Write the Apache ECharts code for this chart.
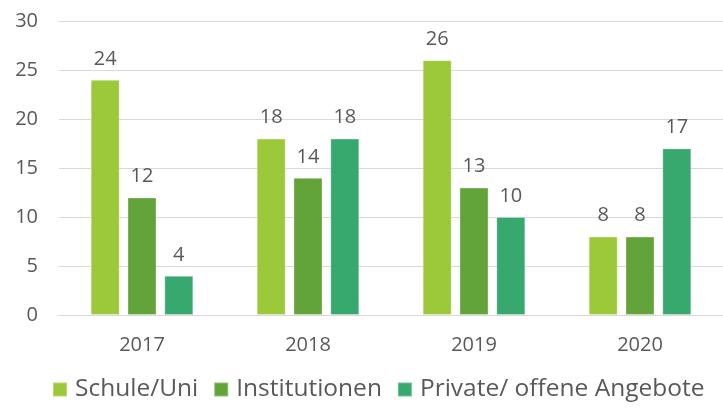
<!DOCTYPE html>
<html>
<head>
<meta charset="utf-8">
<script src="https://cdn.jsdelivr.net/npm/echarts@6/dist/echarts.min.js"></script>
<style>
  html, body { margin: 0; padding: 0; background: #fff; }
  #chart { width: 723px; height: 408px; }
</style>
</head>
<body>
<div id="chart"></div>
<script>
const years = ['2017', '2018', '2019', '2020'];
const seriesNames = ['Schule/Uni', 'Institutionen', 'Private/ offene Angebote'];
const schuleUni = [24, 18, 26, 8];
const institutionen = [12, 14, 13, 8];
const privateOffen = [4, 18, 10, 17];
const colors = ['#9bc93a', '#62a43a', '#37a86e'];

const font = 'Open Sans';
const textColor = '#595959';

const chart = echarts.init(document.getElementById('chart'));

function bar(name, data, color) {
  return {
    name: name,
    type: 'bar',
    data: data,
    barWidth: 29,
    barGap: '27%',
    itemStyle: { color: color, borderColor: 'rgba(255,255,255,0.3)', borderWidth: 1 },
    label: {
      show: true,
      position: 'top',
      distance: 11,
      color: textColor,
      fontFamily: font,
      fontSize: 20
    }
  };
}

chart.setOption({
  animation: false,
  color: colors,
  grid: { left: 59, top: 21, width: 672, bottom: 93 },
  legend: {
    data: seriesNames,
    bottom: 1,
    left: 47,
    itemWidth: 14,
    itemHeight: 14,
    itemGap: 15,
    icon: 'rect',
    textStyle: { color: textColor, fontFamily: font, fontSize: 24.5, padding: [0, 0, 0, 3] }
  },
  xAxis: {
    type: 'category',
    data: years,
    axisLine: { lineStyle: { color: '#d9d9d9' } },
    axisTick: { show: false },
    axisLabel: { color: textColor, fontFamily: font, fontSize: 20, margin: 20 }
  },
  yAxis: {
    type: 'value',
    min: 0,
    max: 30,
    interval: 5,
    splitLine: { lineStyle: { color: '#d9d9d9', width: 1 } },
    axisLabel: { color: textColor, fontFamily: font, fontSize: 20, margin: 21 }
  },
  series: [
    bar(seriesNames[0], schuleUni, colors[0]),
    bar(seriesNames[1], institutionen, colors[1]),
    bar(seriesNames[2], privateOffen, colors[2])
  ]
});
</script>
</body>
</html>
